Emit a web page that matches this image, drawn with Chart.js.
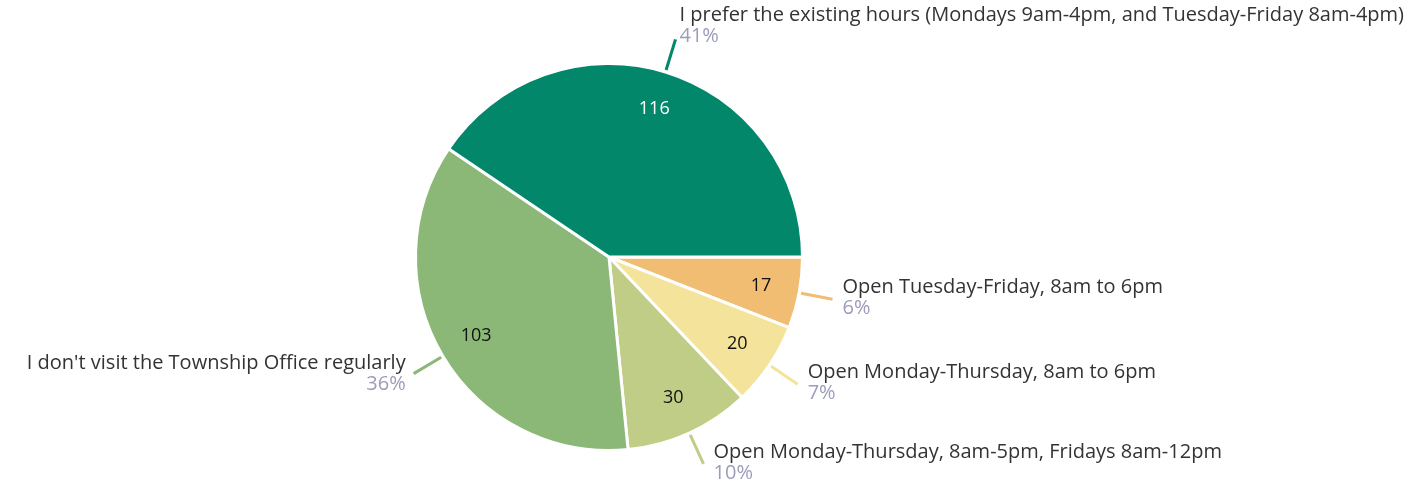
<!DOCTYPE html>
<html>
<head>
<meta charset="utf-8">
<script src="https://cdn.jsdelivr.net/npm/chart.js@4.4.1/dist/chart.umd.min.js"></script>
<style>
  html, body { margin: 0; padding: 0; background: #fff; }
  #wrap { width: 1418px; height: 485px; position: relative; }
</style>
</head>
<body>
<div id="wrap"><canvas id="pie"></canvas></div>
<script>
"use strict";

// answers, in the order they appear going counter-clockwise from 3 o'clock
const ANSWERS = [
  "I prefer the existing hours (Mondays 9am-4pm, and Tuesday-Friday 8am-4pm)",
  "I don't visit the Township Office regularly",
  "Open Monday-Thursday, 8am-5pm, Fridays 8am-12pm",
  "Open Monday-Thursday, 8am to 6pm",
  "Open Tuesday-Friday, 8am to 6pm",
];
const COUNTS = [116, 103, 30, 20, 17];
const COLORS = ["#02876b", "#8cb877", "#c0cd86", "#f4e39b", "#f1bd72"];
const NUM_COLORS = ["#ffffff", "#111111", "#111111", "#111111", "#111111"];

const FONT = '"Open Sans", sans-serif';
const TOTAL = COUNTS.reduce((s, v) => s + v, 0);

// chart.js goes clockwise, the source goes counter-clockwise -> reverse
const order = COUNTS.map((_, i) => i).reverse();

const labelsPlugin = {
  id: "pieLabels",
  afterDatasetsDraw(chart) {
    const ctx = chart.ctx;
    const meta = chart.getDatasetMeta(0);
    meta.data.forEach((arc, j) => {
      const i = order[j];
      const mid = (arc.startAngle + arc.endAngle) / 2;
      const cx = arc.x, cy = arc.y, r = arc.outerRadius;
      const dx = Math.cos(mid), dy = Math.sin(mid);

      // value inside the slice
      ctx.save();
      ctx.font = "18px " + FONT;
      ctx.fillStyle = NUM_COLORS[i];
      ctx.textAlign = "center";
      ctx.textBaseline = "middle";
      ctx.fillText(String(COUNTS[i]), cx + dx * r * 0.80, cy + dy * r * 0.80);

      // leader line
      const x0 = cx + dx * (r + 2), y0 = cy + dy * (r + 2);
      const x1 = cx + dx * (r + 34), y1 = cy + dy * (r + 34);
      ctx.strokeStyle = COLORS[i];
      ctx.lineWidth = 3;
      ctx.beginPath();
      ctx.moveTo(x0, y0);
      ctx.lineTo(x1, y1);
      ctx.stroke();

      // outside label + percent
      const pct = Math.round((COUNTS[i] / TOTAL) * 100) + "%";
      let tx, ty1, ty2, align;
      if (dy < -0.9) {
        align = "left"; tx = x1 + 4; ty1 = y1 - 24; ty2 = y1 - 3;
      } else if (dx >= 0) {
        align = "left"; tx = x1 + 10; ty1 = y1 - 12; ty2 = y1 + 9;
      } else {
        align = "right"; tx = x1 - 8; ty1 = y1 - 10; ty2 = y1 + 11;
      }
      ctx.textAlign = align;
      ctx.font = "20px " + FONT;
      ctx.fillStyle = "#333333";
      const maxW = align === "left" ? chart.width - tx - 12 : tx - 12;
      ctx.fillText(ANSWERS[i], tx, ty1, maxW);
      ctx.fillStyle = "#9c9cbb";
      ctx.fillText(pct, tx, ty2);
      ctx.restore();
    });
  },
};

new Chart(document.getElementById("pie"), {
  type: "pie",
  data: {
    labels: order.map((i) => ANSWERS[i]),
    datasets: [{
      data: order.map((i) => COUNTS[i]),
      backgroundColor: order.map((i) => COLORS[i]),
      borderColor: "#ffffff",
      borderWidth: 3,
      hoverOffset: 0,
    }],
  },
  options: {
    responsive: true,
    maintainAspectRatio: false,
    animation: false,
    devicePixelRatio: 1,
    rotation: 90,
    layout: { padding: { top: 62, bottom: 33, left: 0, right: 200 } },
    events: [],
    plugins: { legend: { display: false }, tooltip: { enabled: false } },
  },
  plugins: [labelsPlugin],
});
</script>
</body>
</html>
